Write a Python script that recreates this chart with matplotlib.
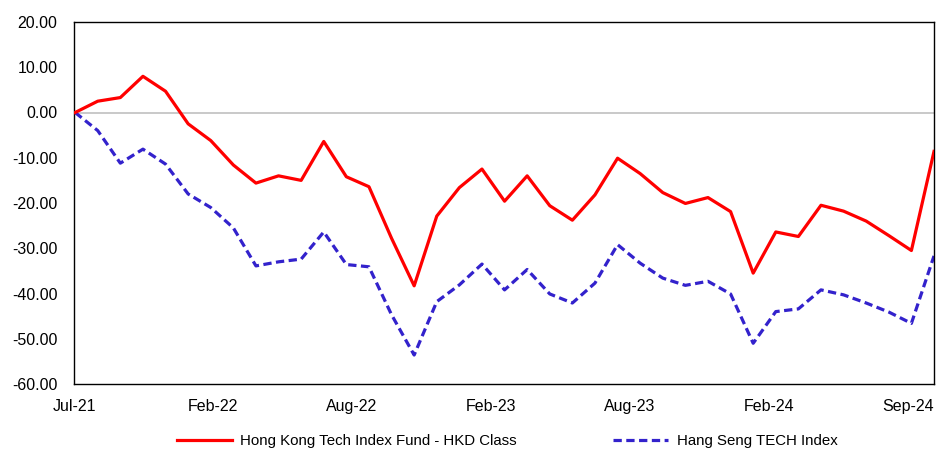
import matplotlib
matplotlib.use("Agg")
import matplotlib.pyplot as plt
import numpy as np

plt.rcParams['font.family'] = ['Liberation Sans', 'DejaVu Sans']

fund_label = "Hong Kong Tech Index Fund - HKD Class"
index_label = "Hang Seng TECH Index"

fund = [0, 2.5, 3.3, 8.0, 4.7, -2.5, -6.2, -11.6, -15.6, -14.0, -15.0, -6.4, -14.2,
        -16.4, -27.8, -38.3, -22.9, -16.6, -12.5, -19.6, -14.0, -20.6, -23.8, -18.2,
        -10.1, -13.5, -17.7, -20.1, -18.8, -21.9, -35.5, -26.4, -27.4, -20.5, -21.8,
        -24.0, -27.2, -30.5, -8.6]
hstech = [0, -4.0, -11.2, -8.1, -11.4, -18.0, -21.0, -25.5, -33.9, -33.0, -32.4, -26.4,
          -33.6, -34.1, -44.7, -53.6, -41.8, -38.1, -33.5, -39.2, -34.7, -40.1, -42.1,
          -37.7, -29.2, -33.3, -36.6, -38.2, -37.3, -40.1, -51.0, -44.0, -43.4, -39.2,
          -40.3, -42.1, -44.1, -46.6, -31.7]
xtick_labels = ["Jul-21", "Feb-22", "Aug-22", "Feb-23", "Aug-23", "Feb-24", "Sep-24"]
yticks = [20, 10, 0, -10, -20, -30, -40, -50, -60]

x = np.arange(len(fund))

fig = plt.figure(figsize=(9.39, 4.5), dpi=100)
ax = fig.add_axes([74/939, 1-384/450, (934-74)/939, (384-22)/450])

ax.axhline(0, color='#c0c0c0', lw=1.2, zorder=1)
ax.plot(x, fund, color='#ff0000', lw=2.3, label=fund_label, zorder=3)
ax.plot(x, hstech, color='#3322cc', lw=2.3, dashes=(2.6, 1.4), label=index_label, zorder=2)

ax.set_xlim(0, len(fund)-1)
ax.set_ylim(-60, 20)
ax.set_yticks(yticks)
ax.set_yticklabels([f"{v:.2f}" for v in yticks])
ax.set_xticks(np.linspace(-0.05, 36.85, len(xtick_labels)))
ax.set_xticklabels(xtick_labels)
ax.tick_params(axis='both', length=0, labelsize=11.5, colors='black')
ax.tick_params(axis='y', pad=12)
ax.tick_params(axis='x', pad=11)
for s in ax.spines.values():
    s.set_color('black')
    s.set_linewidth(1.0)

fig.legend(loc='center', bbox_to_anchor=(0.54, 0.02), ncol=2, frameon=False,
           fontsize=10.8, handlelength=3.7, handletextpad=0.55, columnspacing=6.4)

fig.savefig("out.png", dpi=100)
